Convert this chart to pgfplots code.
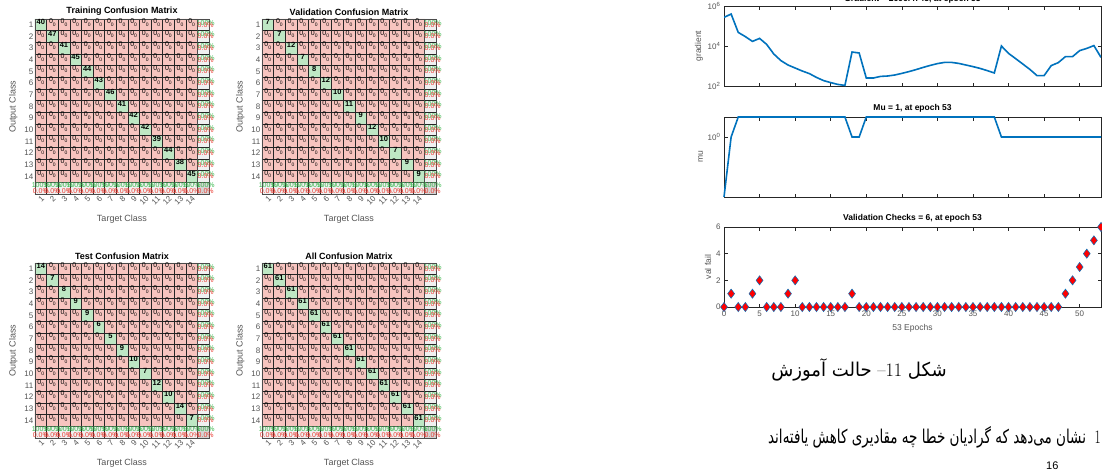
\documentclass[border=0pt]{standalone}
\usepackage{pgfplots}
\pgfplotsset{compat=1.18}
\usepackage{fontspec}
\newfontfamily\arial{Liberation Sans}
\newfontfamily\arabicfont[Script=Arabic]{DejaVu Sans}
\TeXXeTstate=1
\definecolor{matblue}{RGB}{0,114,189}
\definecolor{cmgreen}{RGB}{60,185,80}
\definecolor{cmred}{RGB}{235,60,50}
\definecolor{axgray}{RGB}{38,38,38}
\definecolor{lblgray}{RGB}{85,85,85}

% build cell lists of one confusion matrix from its diagonal counts
\newcommand\buildcm[1]{%
  \foreach \d [count=\k] in {#1} {\expandafter\xdef\csname dg\k\endcsname{\d}}%
  \gdef\bgcells{}\gdef\zerocells{}\gdef\diagcells{}\gdef\rcells{}\gdef\bcells{}%
  \foreach \i in {1,...,15} {%
    \foreach \j in {1,...,15} {%
      \ifnum\i=15\relax
        \ifnum\j=15\relax \xdef\bgcells{\bgcells (\j,\i) [3]}%
        \else \xdef\bgcells{\bgcells (\j,\i) [2]}\xdef\bcells{\bcells (\j,\i)}\fi
      \else
        \ifnum\j=15\relax \xdef\bgcells{\bgcells (\j,\i) [2]}\xdef\rcells{\rcells (\j,\i)}%
        \else
          \ifnum\i=\j\relax
            \xdef\bgcells{\bgcells (\j,\i) [1]}%
            \xdef\diagcells{\diagcells (\j,\i) [\csname dg\i\endcsname]}%
          \else
            \xdef\bgcells{\bgcells (\j,\i) [0]}%
            \xdef\zerocells{\zerocells (\j,\i)}%
          \fi
        \fi
      \fi
    }%
  }%
}
\newcommand\addcells[2]{\expandafter\addcellsi\expandafter{#2}{#1}}
\newcommand\addcellsi[2]{\addplot[#2] coordinates {#1};}

\newcommand\cmplots{%
  \addcells{matrix plot*, mesh/cols=15, point meta=explicit}{\bgcells}
  \addcells{draw=none, mark=none, nodes near coords={0\raisebox{-2.5pt}{\fontsize{5}{5}\selectfont 0}},
    every node near coord/.append style={font=\arial\fontsize{7}{7}\selectfont, anchor=center, yshift=2.5pt, inner sep=0pt}}{\zerocells}
  \addcells{draw=none, mark=none, point meta=explicit symbolic, nodes near coords={\pgfplotspointmeta},
    every node near coord/.append style={font=\arial\bfseries\fontsize{7.5}{7.5}\selectfont, anchor=center, yshift=3pt, inner sep=0pt}}{\diagcells}
  \addcells{draw=none, mark=none, nodes near coords={\textcolor{cmgreen}{100\%}\\[-5pt]\textcolor{cmred}{0.0\%}},
    every node near coord/.append style={font=\arial\fontsize{7}{7}\selectfont, anchor=center, align=center, inner sep=0pt, xshift=2.5pt, yshift=1pt}}{\rcells}
  \addcells{draw=none, mark=none, nodes near coords={\textcolor{cmgreen}{100\%}\\[-1.5pt]\textcolor{cmred}{0.0\%}},
    every node near coord/.append style={font=\arial\fontsize{7}{7}\selectfont, anchor=center, align=center, inner sep=0pt, yshift=0pt}}{\bcells}
  \addplot[draw=none, mark=none, nodes near coords={\textcolor{cmgreen}{100\%}\\[-1.5pt]\textcolor{cmred}{0.0\%}},
    every node near coord/.append style={font=\arial\fontsize{7}{7}\selectfont, anchor=center, align=center, inner sep=0pt, xshift=2.5pt}] coordinates {(15,15)};
}

\pgfplotsset{
  cmstyle/.style={
    scale only axis, width=174pt, height=175pt, anchor=north west,
    xmin=0.5, xmax=15.5, ymin=0.5, ymax=15.5, y dir=reverse, enlargelimits=false,
    axis on top, clip=false,
    xtick={1,...,14}, ytick={1,...,14},
    minor xtick={0.5,1.5,...,15.5}, minor ytick={0.5,1.5,...,15.5},
    minor grid style={black!85, line width=0.55pt}, grid=minor,
    major tick length=0pt, minor tick length=0pt,
    extra x ticks={14.5}, extra y ticks={14.5}, extra x tick labels={}, extra y tick labels={},
    extra tick style={grid=major, major grid style={black!70, line width=1.2pt}},
    axis line style={black!70, line width=0.7pt},
    colormap={cmc}{rgb255=(247,196,191) rgb255=(190,231,196) rgb255=(240,240,240) rgb255=(212,212,212)},
    colormap access=direct,
    /pgf/number format/assume math mode=true,
    xticklabel style={rotate=45, anchor=north east, font=\arial\fontsize{8}{8}\selectfont, text=lblgray, inner sep=1pt},
    yticklabel style={font=\arial\fontsize{8}{8}\selectfont, text=lblgray, inner sep=1.5pt},
    xlabel={Target Class}, ylabel={Output Class},
    label style={font=\arial\fontsize{9}{9}\selectfont, text=lblgray},
    xlabel style={yshift=-4pt}, ylabel style={yshift=2pt},
    title style={font=\arial\bfseries\fontsize{9}{9}\selectfont, yshift=-6pt},
  },
  mstyle/.style={
    scale only axis, width=377pt, height=80pt, anchor=north west,
    xmin=0, xmax=53, xtick={0,5,...,50}, tick align=inside,
    major tick length=3.5pt, minor tick length=2pt,
    axis line style={axgray, line width=0.6pt}, tick style={axgray, line width=0.5pt},
    /pgf/number format/assume math mode=true,
    ticklabel style={font=\arial\fontsize{8}{8}\selectfont, text=lblgray},
    label style={font=\arial\fontsize{8.5}{8.5}\selectfont, text=lblgray},
    ylabel style={yshift=-2pt},
    title style={font=\arial\bfseries\fontsize{8.5}{8.5}\selectfont, yshift=-5pt},
  }
}

\begin{document}
\begin{tikzpicture}
\path[use as bounding box, fill=white] (0pt,0pt) rectangle (1102pt,-472pt);

% ---------- confusion matrices ----------
\buildcm{40,47,41,45,44,43,46,41,42,42,39,44,38,45}
\begin{axis}[cmstyle, at={(35pt,-19pt)}, title={Training Confusion Matrix}]
\cmplots
\end{axis}

\buildcm{7,7,12,7,8,12,10,11,9,12,10,7,9,9}
\begin{axis}[cmstyle, at={(262pt,-19pt)}, title={Validation Confusion Matrix}]
\cmplots
\end{axis}

\buildcm{14,7,8,9,9,6,5,9,10,7,12,10,14,7}
\begin{axis}[cmstyle, at={(35pt,-263pt)}, title={Test Confusion Matrix}]
\cmplots
\end{axis}

\buildcm{61,61,61,61,61,61,61,61,61,61,61,61,61,61}
\begin{axis}[cmstyle, at={(262pt,-263pt)}, title={All Confusion Matrix}]
\cmplots
\end{axis}

% ---------- training state ----------
\begin{axis}[mstyle, at={(724pt,-6pt)}, ymode=log, ymin=100, ymax=1e6,
  ytick={100,1e4,1e6}, yticklabels={10\textsuperscript{2},10\textsuperscript{4},10\textsuperscript{6}},
  xticklabels={}, ylabel={gradient}, title={Gradient = 2696.4745, at epoch 53},
  title style={yshift=-2pt}]
\addplot[matblue, line width=1.6pt] coordinates {
(0,2.69e5) (1,3.98e5) (2,4.79e4) (3,2.95e4) (4,1.70e4) (5,2.40e4) (6,1.20e4) (7,3.98e3)
(8,1.86e3) (9,1.12e3) (10,794) (11,562) (12,417) (13,269) (14,186) (15,148) (16,120)
(17,107) (18,5.01e3) (19,4.47e3) (20,251) (21,251) (22,302) (23,316) (24,355) (25,427)
(26,525) (27,661) (28,851) (29,1072) (30,1318) (31,1514) (32,1514) (33,1349) (34,1122)
(35,933) (36,759) (37,589) (38,447) (39,1.0e4) (40,4.27e3) (41,2.34e3) (42,1.26e3)
(43,676) (44,331) (45,331) (46,1047) (47,1479) (48,2951) (49,2951) (50,5888) (51,7586)
(52,1.05e4) (53,2696)};
\end{axis}

\begin{axis}[mstyle, at={(724pt,-117pt)}, ymode=log, ymin=1e-3, ymax=10, clip=false,
  ytick={1}, yticklabels={10\textsuperscript{0}},
  xticklabels={}, ylabel={mu}, title={Mu = 1, at epoch 53}]
\addplot[matblue, line width=1.6pt] coordinates {
(0,0.001) (1,1) (2,10) (3,10) (4,10) (5,10) (6,10) (7,10) (8,10) (9,10) (10,10) (11,10)
(12,10) (13,10) (14,10) (15,10) (16,10) (17,10) (18,1) (19,1) (20,10) (21,10) (22,10)
(23,10) (24,10) (25,10) (26,10) (27,10) (28,10) (29,10) (30,10) (31,10) (32,10) (33,10)
(34,10) (35,10) (36,10) (37,10) (38,10) (39,1) (40,1) (41,1) (42,1) (43,1) (44,1) (45,1)
(46,1) (47,1) (48,1) (49,1) (50,1) (51,1) (52,1) (53,1)};
\end{axis}

\begin{axis}[mstyle, at={(724pt,-227pt)}, ymin=0, ymax=6, ytick={0,2,4,6}, clip=false,
  xlabel={53 Epochs}, ylabel={val fail}, xlabel style={yshift=-1pt},
  title={Validation Checks = 6, at epoch 53}]
\addplot[only marks, mark=diamond*, mark size=4.6pt,
  mark options={fill=red, draw=matblue, line width=0.5pt}] coordinates {
(0,0) (1,1) (2,0) (3,0) (4,1) (5,2) (6,0) (7,0) (8,0) (9,1) (10,2) (11,0) (12,0) (13,0)
(14,0) (15,0) (16,0) (17,0) (18,1) (19,0) (20,0) (21,0) (22,0) (23,0) (24,0) (25,0) (26,0)
(27,0) (28,0) (29,0) (30,0) (31,0) (32,0) (33,0) (34,0) (35,0) (36,0) (37,0) (38,0) (39,0)
(40,0) (41,0) (42,0) (43,0) (44,0) (45,0) (46,0) (47,0) (48,1) (49,2) (50,3) (51,4) (52,5)
(53,6)};
\end{axis}

% ---------- Persian text ----------
\node[inner sep=0pt, font=\fontsize{19}{22}\selectfont] at (859pt,-370pt)
  {\scalebox{0.95}[1]{\arabicfont\beginR شکل \beginL{\rmfamily 11}\endL{\rmfamily –} حالت آموزش\endR}};
\node[inner sep=0pt, anchor=east, font=\fontsize{19}{22}\selectfont] at (1101pt,-437pt)
  {\scalebox{0.71}[1]{\arabicfont\beginR\beginL{\rmfamily 1}\endL\ \ نشان می‌دهد که گرادیان خطا چه مقادیری کاهش یافته‌اند\endR}};
\node[inner sep=0pt, anchor=west, font=\arial\fontsize{11}{11}\selectfont] at (1046pt,-466pt) {16};
\end{tikzpicture}
\end{document}
